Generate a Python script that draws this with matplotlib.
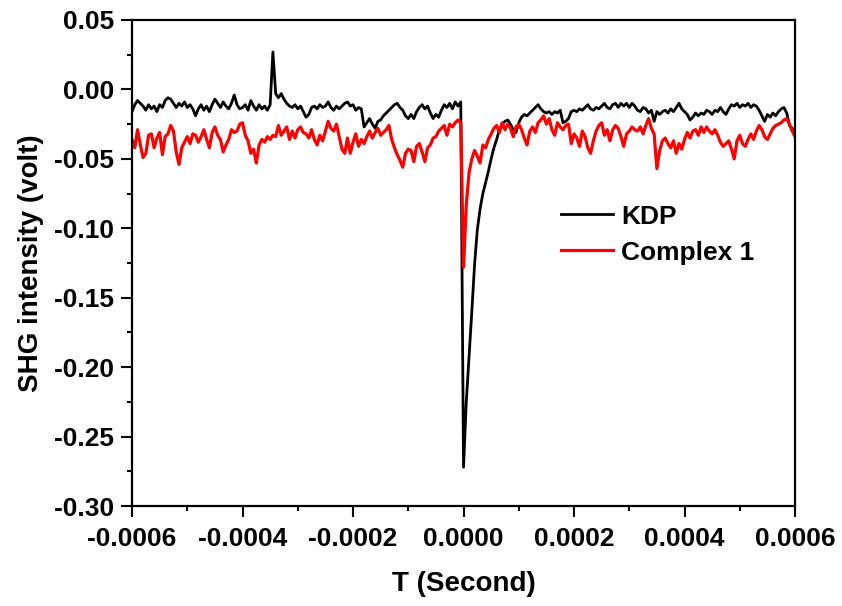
import numpy as np
import matplotlib
matplotlib.use('Agg')
import matplotlib.pyplot as plt
from matplotlib.ticker import MultipleLocator, FormatStrFormatter

plt.rcParams['font.family'] = ['Liberation Sans', 'DejaVu Sans']
plt.rcParams['font.weight'] = 'bold'
plt.rcParams['axes.unicode_minus'] = False

# time axis, one sample every 5 us
t_start = -0.0006
t_step = 0.000005

# SHG signal (volt)
kdp = [
    -0.016, -0.011, -0.008, -0.010, -0.012, -0.015, -0.011, -0.014, -0.012, -0.016,
    -0.011, -0.013, -0.008, -0.006, -0.007, -0.010, -0.013, -0.010, -0.012, -0.009,
    -0.013, -0.011, -0.014, -0.019, -0.014, -0.011, -0.015, -0.012, -0.016, -0.011,
    -0.007, -0.010, -0.013, -0.009, -0.012, -0.014, -0.010, -0.004, -0.011, -0.014,
    -0.013, -0.011, -0.015, -0.008, -0.012, -0.015, -0.011, -0.014, -0.012, -0.015,
    -0.011, 0.027, -0.003, -0.006, -0.003, -0.007, -0.010, -0.012, -0.013, -0.011,
    -0.014, -0.012, -0.016, -0.020, -0.018, -0.013, -0.012, -0.014, -0.011, -0.013,
    -0.012, -0.009, -0.013, -0.015, -0.012, -0.014, -0.012, -0.010, -0.009, -0.012,
    -0.011, -0.015, -0.013, -0.014, -0.027, -0.024, -0.021, -0.025, -0.028, -0.023,
    -0.022, -0.019, -0.017, -0.015, -0.013, -0.011, -0.010, -0.013, -0.015, -0.019,
    -0.021, -0.018, -0.021, -0.016, -0.013, -0.011, -0.014, -0.012, -0.017, -0.021,
    -0.018, -0.020, -0.015, -0.011, -0.013, -0.010, -0.014, -0.009, -0.012, -0.009,
    -0.272, -0.225, -0.193, -0.160, -0.126, -0.101, -0.086, -0.075, -0.067, -0.059,
    -0.050, -0.042, -0.036, -0.029, -0.025, -0.023, -0.022, -0.025, -0.029, -0.031,
    -0.024, -0.020, -0.018, -0.019, -0.017, -0.015, -0.013, -0.011, -0.014, -0.016,
    -0.017, -0.016, -0.018, -0.016, -0.017, -0.015, -0.024, -0.023, -0.021, -0.016,
    -0.015, -0.016, -0.014, -0.015, -0.013, -0.011, -0.014, -0.015, -0.013, -0.014,
    -0.012, -0.010, -0.013, -0.014, -0.011, -0.010, -0.013, -0.010, -0.012, -0.010,
    -0.013, -0.010, -0.012, -0.015, -0.016, -0.013, -0.014, -0.017, -0.015, -0.023,
    -0.016, -0.018, -0.016, -0.015, -0.017, -0.014, -0.016, -0.013, -0.010, -0.014,
    -0.016, -0.018, -0.022, -0.020, -0.017, -0.019, -0.017, -0.018, -0.015, -0.016,
    -0.018, -0.015, -0.016, -0.013, -0.016, -0.018, -0.014, -0.011, -0.012, -0.010,
    -0.013, -0.011, -0.012, -0.010, -0.013, -0.011, -0.012, -0.015, -0.019, -0.023,
    -0.018, -0.020, -0.017, -0.019, -0.016, -0.014, -0.013, -0.017, -0.026, -0.028,
    -0.031,
]

complex1 = [
    -0.036, -0.042, -0.029, -0.040, -0.049, -0.046, -0.033, -0.032, -0.042, -0.035,
    -0.031, -0.047, -0.034, -0.032, -0.026, -0.030, -0.045, -0.054, -0.042, -0.038,
    -0.034, -0.039, -0.032, -0.033, -0.038, -0.034, -0.029, -0.036, -0.042, -0.031,
    -0.027, -0.033, -0.036, -0.045, -0.040, -0.036, -0.029, -0.031, -0.030, -0.025,
    -0.024, -0.033, -0.037, -0.046, -0.043, -0.053, -0.040, -0.036, -0.038, -0.034,
    -0.036, -0.033, -0.034, -0.026, -0.033, -0.030, -0.027, -0.036, -0.030, -0.035,
    -0.029, -0.027, -0.031, -0.032, -0.035, -0.029, -0.036, -0.040, -0.033, -0.037,
    -0.030, -0.023, -0.028, -0.030, -0.025, -0.034, -0.043, -0.046, -0.035, -0.046,
    -0.038, -0.032, -0.041, -0.036, -0.039, -0.034, -0.030, -0.035, -0.031, -0.028,
    -0.033, -0.031, -0.029, -0.026, -0.036, -0.042, -0.047, -0.051, -0.056, -0.046,
    -0.043, -0.044, -0.052, -0.041, -0.039, -0.045, -0.052, -0.042, -0.040, -0.035,
    -0.034, -0.030, -0.028, -0.026, -0.033, -0.025, -0.027, -0.024, -0.022, -0.024,
    -0.128, -0.083, -0.060, -0.050, -0.044, -0.048, -0.053, -0.040, -0.042, -0.036,
    -0.032, -0.028, -0.026, -0.031, -0.024, -0.029, -0.025, -0.028, -0.034, -0.027,
    -0.025, -0.029, -0.035, -0.040, -0.030, -0.027, -0.031, -0.024, -0.022, -0.019,
    -0.025, -0.021, -0.029, -0.033, -0.024, -0.027, -0.029, -0.026, -0.025, -0.039,
    -0.032, -0.035, -0.041, -0.030, -0.034, -0.042, -0.046, -0.037, -0.030, -0.026,
    -0.024, -0.033, -0.029, -0.037, -0.029, -0.026, -0.028, -0.034, -0.041, -0.032,
    -0.030, -0.027, -0.029, -0.030, -0.027, -0.032, -0.026, -0.021, -0.028, -0.032,
    -0.057, -0.044, -0.037, -0.035, -0.039, -0.042, -0.037, -0.046, -0.039, -0.043,
    -0.036, -0.031, -0.035, -0.030, -0.029, -0.033, -0.027, -0.031, -0.027, -0.030,
    -0.032, -0.029, -0.033, -0.038, -0.041, -0.039, -0.037, -0.043, -0.050, -0.037,
    -0.033, -0.039, -0.041, -0.036, -0.032, -0.036, -0.030, -0.026, -0.029, -0.034,
    -0.036, -0.032, -0.028, -0.026, -0.025, -0.024, -0.022, -0.021, -0.025, -0.030,
    -0.034,
]

t_kdp = t_start + t_step * np.arange(len(kdp))
t_cx = t_start + t_step * np.arange(len(complex1))

fig = plt.figure(figsize=(8.42, 6.06), dpi=100)
ax = fig.add_axes([0.1568, 0.165, 0.7874, 0.802])

# plot
ax.plot(t_kdp, kdp, color='black', lw=2.0, label='KDP')
ax.plot(t_cx, complex1, color='#ff0000', lw=2.3, label='Complex 1')

# x axis
ax.set_xlim(-0.0006, 0.0006)
ax.xaxis.set_major_locator(MultipleLocator(0.0002))
ax.xaxis.set_minor_locator(MultipleLocator(0.0001))
ax.xaxis.set_major_formatter(FormatStrFormatter('%.4f'))
ax.set_xlabel('T (Second)', fontsize=20, fontweight='bold', labelpad=14)

# y axis
ax.set_ylim(-0.30, 0.05)
ax.yaxis.set_major_locator(MultipleLocator(0.05))
ax.yaxis.set_minor_locator(MultipleLocator(0.025))
ax.yaxis.set_major_formatter(FormatStrFormatter('%.2f'))
ax.set_ylabel('SHG intensity (volt)', fontsize=20, fontweight='bold', labelpad=7)

ax.tick_params(which='both', direction='out', width=1.5, labelsize=19)
ax.tick_params(which='major', length=8.2)
ax.tick_params(which='minor', length=3.8)
ax.tick_params(axis='x', which='major', pad=7)
ax.tick_params(axis='y', which='major', pad=4.8)
for s in ax.spines.values():
    s.set_linewidth(1.6)

# legend
ax.legend(loc='upper left', bbox_to_anchor=(0.6466, 0.62), frameon=False,
          fontsize=19, borderpad=0, borderaxespad=0, handlelength=2.0,
          handletextpad=0.3, labelspacing=0.45)

plt.savefig('out.png', dpi=100)
plt.close()
